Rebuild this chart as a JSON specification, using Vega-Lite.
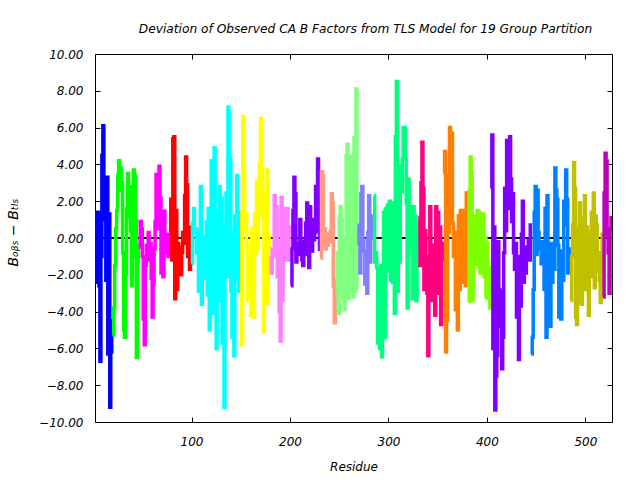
{
 "$schema": "https://vega.github.io/schema/vega-lite/v6.json",
 "width": 517, "height": 368,
 "autosize": "none",
 "padding": {"left": 95, "top": 54, "right": 28, "bottom": 58},
 "background": "white",
 "title": {"text": "Deviation of Observed CA B Factors from TLS Model for 19 Group Partition", "font": "DejaVu Sans", "fontStyle": "italic", "fontWeight": "normal", "fontSize": 12.2, "color": "#000", "offset": 13, "dx": 12},
 "config": {
  "view": {"stroke": "#000", "strokeWidth": 1},
  "axis": {"labelFont": "DejaVu Sans", "labelFontStyle": "italic", "labelFontSize": 12, "labelColor": "#000", "titleFont": "DejaVu Sans", "titleFontStyle": "italic", "titleFontWeight": "normal", "titleFontSize": 12, "titleColor": "#000", "tickColor": "#000", "domain": false, "grid": false, "tickSize": -5, "labelOverlap": false, "labelFlush": false}
 },
 "data": {"values": [
{"r":2,"v":-2.4,"g":"s01"},{"r":3,"v":1.4,"g":"s01"},{"r":4,"v":-0.5,"g":"s01"},{"r":5,"v":1.4,"g":"s01"},{"r":6,"v":-2.6,"g":"s01"},{"r":7,"v":-6.7,"g":"s01"},{"r":8,"v":-1.0,"g":"s01"},{"r":9,"v":4.5,"g":"s01"},{"r":10,"v":6.1,"g":"s01"},{"r":11,"v":1.0,"g":"s01"},{"r":12,"v":3.3,"g":"s01"},{"r":13,"v":-2.3,"g":"s01"},{"r":14,"v":3.3,"g":"s01"},{"r":15,"v":-6.3,"g":"s01"},{"r":16,"v":1.3,"g":"s01"},{"r":17,"v":-9.2,"g":"s01"},{"r":18,"v":-6.2,"g":"s01"},{"r":19,"v":-4.4,"g":"s01"},
{"r":20,"v":-5.3,"g":"s02"},{"r":21,"v":-3.8,"g":"s02"},{"r":22,"v":-1.5,"g":"s02"},{"r":23,"v":0.5,"g":"s02"},{"r":24,"v":1.5,"g":"s02"},{"r":25,"v":3.4,"g":"s02"},{"r":26,"v":4.2,"g":"s02"},{"r":27,"v":2.6,"g":"s02"},{"r":28,"v":3.8,"g":"s02"},{"r":29,"v":3.0,"g":"s02"},{"r":30,"v":-0.8,"g":"s02"},{"r":31,"v":-5.0,"g":"s02"},{"r":32,"v":-5.4,"g":"s02"},{"r":33,"v":-2.0,"g":"s02"},{"r":34,"v":1.6,"g":"s02"},{"r":35,"v":3.5,"g":"s02"},{"r":36,"v":1.2,"g":"s02"},{"r":37,"v":2.8,"g":"s02"},{"r":38,"v":0.4,"g":"s02"},{"r":39,"v":-2.6,"g":"s02"},{"r":40,"v":-1.0,"g":"s02"},{"r":41,"v":3.7,"g":"s02"},{"r":42,"v":3.4,"g":"s02"},{"r":43,"v":1.0,"g":"s02"},{"r":44,"v":-6.5,"g":"s02"},{"r":45,"v":-1.3,"g":"s02"},{"r":46,"v":-0.3,"g":"s02"},
{"r":47,"v":-0.5,"g":"s03"},{"r":48,"v":0.9,"g":"s03"},{"r":49,"v":0.5,"g":"s03"},{"r":50,"v":-1.0,"g":"s03"},{"r":51,"v":-4.4,"g":"s03"},{"r":52,"v":-5.8,"g":"s03"},{"r":53,"v":-1.5,"g":"s03"},{"r":54,"v":-0.4,"g":"s03"},{"r":55,"v":-1.2,"g":"s03"},{"r":56,"v":0.3,"g":"s03"},{"r":57,"v":-1.0,"g":"s03"},{"r":58,"v":-0.3,"g":"s03"},{"r":59,"v":-2.2,"g":"s03"},{"r":60,"v":-4.3,"g":"s03"},{"r":61,"v":-2.5,"g":"s03"},{"r":62,"v":-0.6,"g":"s03"},{"r":63,"v":0.9,"g":"s03"},{"r":64,"v":3.45,"g":"s03"},{"r":65,"v":3.0,"g":"s03"},{"r":66,"v":0.5,"g":"s03"},{"r":67,"v":3.9,"g":"s03"},{"r":68,"v":2.2,"g":"s03"},{"r":69,"v":-1.9,"g":"s03"},{"r":70,"v":1.3,"g":"s03"},{"r":71,"v":-2.1,"g":"s03"},{"r":72,"v":1.45,"g":"s03"},{"r":73,"v":0.2,"g":"s03"},{"r":74,"v":-0.8,"g":"s03"},{"r":75,"v":0.1,"g":"s03"},{"r":76,"v":-1.0,"g":"s03"},{"r":77,"v":0.3,"g":"s03"},
{"r":78,"v":0.3,"g":"s04"},{"r":79,"v":2.1,"g":"s04"},{"r":80,"v":-1.2,"g":"s04"},{"r":81,"v":5.4,"g":"s04"},{"r":82,"v":5.5,"g":"s04"},{"r":83,"v":-3.3,"g":"s04"},{"r":84,"v":1.5,"g":"s04"},{"r":85,"v":-2.8,"g":"s04"},{"r":86,"v":-0.3,"g":"s04"},{"r":87,"v":-1.4,"g":"s04"},{"r":88,"v":-0.5,"g":"s04"},{"r":89,"v":-2.0,"g":"s04"},{"r":90,"v":-0.8,"g":"s04"},{"r":91,"v":0.3,"g":"s04"},{"r":92,"v":-0.3,"g":"s04"},{"r":93,"v":2.3,"g":"s04"},{"r":94,"v":4.4,"g":"s04"},{"r":95,"v":2.9,"g":"s04"},{"r":96,"v":-1.0,"g":"s04"},{"r":97,"v":0.6,"g":"s04"},{"r":98,"v":-1.7,"g":"s04"},{"r":99,"v":0.5,"g":"s04"},
{"r":100,"v":-1.4,"g":"s05"},{"r":101,"v":0.8,"g":"s05"},{"r":102,"v":1.6,"g":"s05"},{"r":103,"v":0.3,"g":"s05"},{"r":104,"v":0.5,"g":"s05"},{"r":105,"v":-0.8,"g":"s05"},{"r":106,"v":0.4,"g":"s05"},{"r":107,"v":-2.9,"g":"s05"},{"r":108,"v":-1.0,"g":"s05"},{"r":109,"v":2.8,"g":"s05"},{"r":110,"v":-3.6,"g":"s05"},{"r":111,"v":-0.8,"g":"s05"},{"r":112,"v":-1.5,"g":"s05"},{"r":113,"v":0.1,"g":"s05"},{"r":114,"v":-2.2,"g":"s05"},{"r":115,"v":0.9,"g":"s05"},{"r":116,"v":-3.1,"g":"s05"},{"r":117,"v":1.6,"g":"s05"},{"r":118,"v":-5.0,"g":"s05"},{"r":119,"v":-1.0,"g":"s05"},{"r":120,"v":4.2,"g":"s05"},{"r":121,"v":2.2,"g":"s05"},{"r":122,"v":-4.1,"g":"s05"},{"r":123,"v":4.9,"g":"s05"},{"r":124,"v":1.2,"g":"s05"},{"r":125,"v":-6.0,"g":"s05"},{"r":126,"v":-0.1,"g":"s05"},{"r":127,"v":-3.4,"g":"s05"},{"r":128,"v":2.8,"g":"s05"},{"r":129,"v":-2.5,"g":"s05"},{"r":130,"v":2.2,"g":"s05"},{"r":131,"v":-5.7,"g":"s05"},{"r":132,"v":0.7,"g":"s05"},{"r":133,"v":-9.2,"g":"s05"},{"r":134,"v":-0.5,"g":"s05"},{"r":135,"v":2.45,"g":"s05"},{"r":136,"v":-2.1,"g":"s05"},{"r":137,"v":7.1,"g":"s05"},{"r":138,"v":6.8,"g":"s05"},{"r":139,"v":4.3,"g":"s05"},{"r":140,"v":-2.9,"g":"s05"},{"r":141,"v":-5.4,"g":"s05"},{"r":142,"v":0.2,"g":"s05"},{"r":143,"v":-6.4,"g":"s05"},{"r":144,"v":1.2,"g":"s05"},{"r":145,"v":-2.3,"g":"s05"},{"r":146,"v":3.4,"g":"s05"},{"r":147,"v":1.4,"g":"s05"},{"r":148,"v":-2.9,"g":"s05"},{"r":149,"v":0.0,"g":"s05"},
{"r":150,"v":1.5,"g":"s06"},{"r":151,"v":-5.8,"g":"s06"},{"r":152,"v":6.6,"g":"s06"},{"r":153,"v":3.8,"g":"s06"},{"r":154,"v":0.5,"g":"s06"},{"r":155,"v":1.3,"g":"s06"},{"r":156,"v":-0.4,"g":"s06"},{"r":157,"v":-3.4,"g":"s06"},{"r":158,"v":-0.8,"g":"s06"},{"r":159,"v":-1.6,"g":"s06"},{"r":160,"v":-4.2,"g":"s06"},{"r":161,"v":0.5,"g":"s06"},{"r":162,"v":-2.0,"g":"s06"},{"r":163,"v":-4.3,"g":"s06"},{"r":164,"v":1.3,"g":"s06"},{"r":165,"v":-0.9,"g":"s06"},{"r":166,"v":3.1,"g":"s06"},{"r":167,"v":-0.6,"g":"s06"},{"r":168,"v":1.3,"g":"s06"},{"r":169,"v":4.1,"g":"s06"},{"r":170,"v":6.5,"g":"s06"},{"r":171,"v":3.8,"g":"s06"},{"r":172,"v":1.2,"g":"s06"},{"r":173,"v":-5.1,"g":"s06"},{"r":174,"v":2.5,"g":"s06"},{"r":175,"v":2.0,"g":"s06"},{"r":176,"v":3.7,"g":"s06"},{"r":177,"v":-3.6,"g":"s06"},{"r":178,"v":-0.5,"g":"s06"},{"r":179,"v":0.2,"g":"s06"},
{"r":180,"v":-1.0,"g":"s07"},{"r":181,"v":-1.9,"g":"s07"},{"r":182,"v":-0.6,"g":"s07"},{"r":183,"v":-1.0,"g":"s07"},{"r":184,"v":2.3,"g":"s07"},{"r":185,"v":0.5,"g":"s07"},{"r":186,"v":1.7,"g":"s07"},{"r":187,"v":-2.1,"g":"s07"},{"r":188,"v":-0.2,"g":"s07"},{"r":189,"v":-4.0,"g":"s07"},{"r":190,"v":-5.6,"g":"s07"},{"r":191,"v":2.2,"g":"s07"},{"r":192,"v":-3.4,"g":"s07"},{"r":193,"v":1.6,"g":"s07"},{"r":194,"v":0.5,"g":"s07"},{"r":195,"v":-1.2,"g":"s07"},{"r":196,"v":0.2,"g":"s07"},{"r":197,"v":1.6,"g":"s07"},{"r":198,"v":-1.2,"g":"s07"},{"r":199,"v":0.6,"g":"s07"},{"r":200,"v":0.3,"g":"s07"},
{"r":201,"v":-2.6,"g":"s08"},{"r":202,"v":-0.6,"g":"s08"},{"r":203,"v":1.5,"g":"s08"},{"r":204,"v":3.3,"g":"s08"},{"r":205,"v":2.4,"g":"s08"},{"r":206,"v":-1.3,"g":"s08"},{"r":207,"v":-0.9,"g":"s08"},{"r":208,"v":-0.3,"g":"s08"},{"r":209,"v":-0.9,"g":"s08"},{"r":210,"v":1.0,"g":"s08"},{"r":211,"v":-0.1,"g":"s08"},{"r":212,"v":-1.2,"g":"s08"},{"r":213,"v":-1.5,"g":"s08"},{"r":214,"v":-0.2,"g":"s08"},{"r":215,"v":-0.9,"g":"s08"},{"r":216,"v":0.8,"g":"s08"},{"r":217,"v":1.9,"g":"s08"},{"r":218,"v":0.6,"g":"s08"},{"r":219,"v":-1.6,"g":"s08"},{"r":220,"v":1.7,"g":"s08"},{"r":221,"v":-0.4,"g":"s08"},{"r":222,"v":-0.7,"g":"s08"},{"r":223,"v":1.0,"g":"s08"},{"r":224,"v":-0.1,"g":"s08"},{"r":225,"v":0.3,"g":"s08"},{"r":226,"v":2.8,"g":"s08"},{"r":227,"v":1.5,"g":"s08"},{"r":228,"v":4.3,"g":"s08"},{"r":229,"v":0.4,"g":"s08"},{"r":230,"v":-0.7,"g":"s08"},
{"r":231,"v":-1.1,"g":"s09"},{"r":232,"v":3.6,"g":"s09"},{"r":233,"v":3.4,"g":"s09"},{"r":234,"v":-0.3,"g":"s09"},{"r":235,"v":0.5,"g":"s09"},{"r":236,"v":-0.6,"g":"s09"},{"r":237,"v":0.2,"g":"s09"},{"r":238,"v":-0.4,"g":"s09"},{"r":239,"v":0.1,"g":"s09"},{"r":240,"v":-0.2,"g":"s09"},{"r":241,"v":0.4,"g":"s09"},{"r":242,"v":2.4,"g":"s09"},{"r":243,"v":1.9,"g":"s09"},{"r":244,"v":-2.6,"g":"s09"},{"r":245,"v":-4.6,"g":"s09"},{"r":246,"v":-2.2,"g":"s09"},
{"r":247,"v":-2.9,"g":"s10"},{"r":248,"v":-0.8,"g":"s10"},{"r":249,"v":-4.1,"g":"s10"},{"r":250,"v":1.2,"g":"s10"},{"r":251,"v":1.7,"g":"s10"},{"r":252,"v":1.0,"g":"s10"},{"r":253,"v":-3.3,"g":"s10"},{"r":254,"v":0.0,"g":"s10"},{"r":255,"v":-3.9,"g":"s10"},{"r":256,"v":-2.1,"g":"s10"},{"r":257,"v":4.45,"g":"s10"},{"r":258,"v":5.1,"g":"s10"},{"r":259,"v":-3.3,"g":"s10"},{"r":260,"v":4.45,"g":"s10"},{"r":261,"v":-2.8,"g":"s10"},{"r":262,"v":2.8,"g":"s10"},{"r":263,"v":4.45,"g":"s10"},{"r":264,"v":-3.2,"g":"s10"},{"r":265,"v":5.45,"g":"s10"},{"r":266,"v":-2.9,"g":"s10"},{"r":267,"v":8.1,"g":"s10"},{"r":268,"v":-2.8,"g":"s10"},
{"r":269,"v":0.7,"g":"s11"},{"r":270,"v":-0.3,"g":"s11"},{"r":271,"v":-1.9,"g":"s11"},{"r":272,"v":2.4,"g":"s11"},{"r":273,"v":2.8,"g":"s11"},{"r":274,"v":-0.1,"g":"s11"},{"r":275,"v":-0.7,"g":"s11"},{"r":276,"v":-2.5,"g":"s11"},{"r":277,"v":-1.0,"g":"s11"},{"r":278,"v":-3.0,"g":"s11"},{"r":279,"v":0.3,"g":"s11"},{"r":280,"v":2.3,"g":"s11"},{"r":281,"v":-1.3,"g":"s11"},{"r":282,"v":1.2,"g":"s11"},{"r":283,"v":0.7,"g":"s11"},{"r":284,"v":-0.1,"g":"s11"},
{"r":285,"v":2.3,"g":"s12"},{"r":286,"v":-1.3,"g":"s12"},{"r":287,"v":-0.8,"g":"s12"},{"r":288,"v":-1.6,"g":"s12"},{"r":289,"v":-5.7,"g":"s12"},{"r":290,"v":-2.0,"g":"s12"},{"r":291,"v":-6.0,"g":"s12"},{"r":292,"v":-1.5,"g":"s12"},{"r":293,"v":-6.45,"g":"s12"},{"r":294,"v":-1.7,"g":"s12"},{"r":295,"v":1.4,"g":"s12"},{"r":296,"v":-5.4,"g":"s12"},{"r":297,"v":1.6,"g":"s12"},{"r":298,"v":-1.6,"g":"s12"},{"r":299,"v":1.8,"g":"s12"},{"r":300,"v":-1.8,"g":"s12"},{"r":301,"v":2.0,"g":"s12"},{"r":302,"v":-2.3,"g":"s12"},{"r":303,"v":1.9,"g":"s12"},{"r":304,"v":-2.4,"g":"s12"},{"r":305,"v":1.9,"g":"s12"},{"r":306,"v":-4.1,"g":"s12"},{"r":307,"v":5.5,"g":"s12"},{"r":308,"v":8.5,"g":"s12"},{"r":309,"v":-2.9,"g":"s12"},{"r":310,"v":3.9,"g":"s12"},{"r":311,"v":-1.3,"g":"s12"},{"r":312,"v":3.9,"g":"s12"},{"r":313,"v":2.5,"g":"s12"},{"r":314,"v":4.3,"g":"s12"},{"r":315,"v":6.0,"g":"s12"},{"r":316,"v":6.0,"g":"s12"},{"r":317,"v":4.3,"g":"s12"},{"r":318,"v":1.9,"g":"s12"},{"r":319,"v":-3.8,"g":"s12"},{"r":320,"v":3.2,"g":"s12"},{"r":321,"v":0.8,"g":"s12"},{"r":322,"v":-0.5,"g":"s12"},{"r":323,"v":1.7,"g":"s12"},{"r":324,"v":-3.3,"g":"s12"},{"r":325,"v":1.7,"g":"s12"},{"r":326,"v":-0.5,"g":"s12"},{"r":327,"v":1.2,"g":"s12"},{"r":328,"v":-3.4,"g":"s12"},{"r":329,"v":0.8,"g":"s12"},{"r":330,"v":-0.5,"g":"s12"},
{"r":331,"v":1.2,"g":"s13"},{"r":332,"v":-1.5,"g":"s13"},{"r":333,"v":3.0,"g":"s13"},{"r":334,"v":5.2,"g":"s13"},{"r":335,"v":2.7,"g":"s13"},{"r":336,"v":-2.8,"g":"s13"},{"r":337,"v":0.4,"g":"s13"},{"r":338,"v":-1.0,"g":"s13"},{"r":339,"v":-3.0,"g":"s13"},{"r":340,"v":-6.4,"g":"s13"},{"r":341,"v":-1.0,"g":"s13"},{"r":342,"v":1.7,"g":"s13"},{"r":343,"v":-3.4,"g":"s13"},{"r":344,"v":-0.5,"g":"s13"},{"r":345,"v":-2.3,"g":"s13"},{"r":346,"v":-0.4,"g":"s13"},{"r":347,"v":-4.2,"g":"s13"},{"r":348,"v":1.7,"g":"s13"},{"r":349,"v":-3.0,"g":"s13"},{"r":350,"v":1.4,"g":"s13"},{"r":351,"v":-0.6,"g":"s13"},{"r":352,"v":0.6,"g":"s13"},{"r":353,"v":-4.7,"g":"s13"},{"r":354,"v":-1.2,"g":"s13"},{"r":355,"v":-0.2,"g":"s13"},
{"r":356,"v":3.5,"g":"s14"},{"r":357,"v":4.7,"g":"s14"},{"r":358,"v":-6.2,"g":"s14"},{"r":359,"v":-4.45,"g":"s14"},{"r":360,"v":3.4,"g":"s14"},{"r":361,"v":0.3,"g":"s14"},{"r":362,"v":6.0,"g":"s14"},{"r":363,"v":1.0,"g":"s14"},{"r":364,"v":5.7,"g":"s14"},{"r":365,"v":0.8,"g":"s14"},{"r":366,"v":-1.0,"g":"s14"},{"r":367,"v":0.3,"g":"s14"},{"r":368,"v":-3.9,"g":"s14"},{"r":369,"v":-0.8,"g":"s14"},{"r":370,"v":-5.0,"g":"s14"},{"r":371,"v":1.2,"g":"s14"},{"r":372,"v":-2.8,"g":"s14"},{"r":373,"v":1.5,"g":"s14"},{"r":374,"v":-2.4,"g":"s14"},{"r":375,"v":1.5,"g":"s14"},{"r":376,"v":-1.9,"g":"s14"},{"r":377,"v":1.5,"g":"s14"},{"r":378,"v":-2.6,"g":"s14"},{"r":379,"v":2.45,"g":"s14"},{"r":380,"v":-0.2,"g":"s14"},
{"r":381,"v":-3.45,"g":"s15"},{"r":382,"v":2.6,"g":"s15"},{"r":383,"v":4.4,"g":"s15"},{"r":384,"v":3.6,"g":"s15"},{"r":385,"v":-3.4,"g":"s15"},{"r":386,"v":0.6,"g":"s15"},{"r":387,"v":-1.4,"g":"s15"},{"r":388,"v":1.2,"g":"s15"},{"r":389,"v":-0.8,"g":"s15"},{"r":390,"v":1.5,"g":"s15"},{"r":391,"v":-1.6,"g":"s15"},{"r":392,"v":1.4,"g":"s15"},{"r":393,"v":-1.9,"g":"s15"},{"r":394,"v":0.5,"g":"s15"},{"r":395,"v":-1.2,"g":"s15"},{"r":396,"v":1.3,"g":"s15"},{"r":397,"v":-2.1,"g":"s15"},{"r":398,"v":0.0,"g":"s15"},{"r":399,"v":-3.2,"g":"s15"},{"r":400,"v":-0.3,"g":"s15"},{"r":401,"v":-3.3,"g":"s15"},{"r":402,"v":-1.6,"g":"s15"},{"r":403,"v":-3.9,"g":"s15"},
{"r":404,"v":2.7,"g":"s16"},{"r":405,"v":5.6,"g":"s16"},{"r":406,"v":-6.0,"g":"s16"},{"r":407,"v":0.6,"g":"s16"},{"r":408,"v":-9.35,"g":"s16"},{"r":409,"v":-7.5,"g":"s16"},{"r":410,"v":-6.4,"g":"s16"},{"r":411,"v":-0.2,"g":"s16"},{"r":412,"v":-2.8,"g":"s16"},{"r":413,"v":-4.8,"g":"s16"},{"r":414,"v":-2.9,"g":"s16"},{"r":415,"v":-7.1,"g":"s16"},{"r":416,"v":-5.4,"g":"s16"},{"r":417,"v":-0.8,"g":"s16"},{"r":418,"v":2.7,"g":"s16"},{"r":419,"v":0.4,"g":"s16"},{"r":420,"v":5.3,"g":"s16"},{"r":421,"v":1.6,"g":"s16"},{"r":422,"v":4.5,"g":"s16"},{"r":423,"v":5.5,"g":"s16"},{"r":424,"v":3.2,"g":"s16"},{"r":425,"v":0.9,"g":"s16"},{"r":426,"v":2.4,"g":"s16"},{"r":427,"v":-0.8,"g":"s16"},{"r":428,"v":-1.7,"g":"s16"},{"r":429,"v":-0.3,"g":"s16"},{"r":430,"v":-4.3,"g":"s16"},{"r":431,"v":-1.0,"g":"s16"},{"r":432,"v":-6.6,"g":"s16"},{"r":433,"v":-1.0,"g":"s16"},{"r":434,"v":-3.7,"g":"s16"},{"r":435,"v":0.2,"g":"s16"},{"r":436,"v":2.0,"g":"s16"},{"r":437,"v":-2.4,"g":"s16"},{"r":438,"v":-0.8,"g":"s16"},{"r":439,"v":-1.9,"g":"s16"},{"r":440,"v":-0.5,"g":"s16"},{"r":441,"v":-1.2,"g":"s16"},{"r":442,"v":-0.1,"g":"s16"},{"r":443,"v":-1.2,"g":"s16"},{"r":444,"v":0.8,"g":"s16"},
{"r":445,"v":-6.3,"g":"s17"},{"r":446,"v":-5.4,"g":"s17"},{"r":447,"v":-2.8,"g":"s17"},{"r":448,"v":1.4,"g":"s17"},{"r":449,"v":2.8,"g":"s17"},{"r":450,"v":-0.9,"g":"s17"},{"r":451,"v":2.6,"g":"s17"},{"r":452,"v":0.3,"g":"s17"},{"r":453,"v":-0.6,"g":"s17"},{"r":454,"v":-0.2,"g":"s17"},{"r":455,"v":-1.4,"g":"s17"},{"r":456,"v":-0.2,"g":"s17"},{"r":457,"v":-0.8,"g":"s17"},{"r":458,"v":-2.8,"g":"s17"},{"r":459,"v":1.6,"g":"s17"},{"r":460,"v":-5.4,"g":"s17"},{"r":461,"v":2.3,"g":"s17"},{"r":462,"v":-3.9,"g":"s17"},{"r":463,"v":-0.3,"g":"s17"},{"r":464,"v":-4.8,"g":"s17"},{"r":465,"v":-0.3,"g":"s17"},{"r":466,"v":-2.4,"g":"s17"},{"r":467,"v":-0.4,"g":"s17"},{"r":468,"v":-1.7,"g":"s17"},{"r":469,"v":3.8,"g":"s17"},{"r":470,"v":2.6,"g":"s17"},{"r":471,"v":2.1,"g":"s17"},{"r":472,"v":-0.4,"g":"s17"},{"r":473,"v":-4.3,"g":"s17"},{"r":474,"v":-2.1,"g":"s17"},{"r":475,"v":-4.4,"g":"s17"},{"r":476,"v":-0.7,"g":"s17"},{"r":477,"v":-2.3,"g":"s17"},{"r":478,"v":2.0,"g":"s17"},{"r":479,"v":0.7,"g":"s17"},{"r":480,"v":3.7,"g":"s17"},{"r":481,"v":2.1,"g":"s17"},{"r":482,"v":-1.9,"g":"s17"},{"r":483,"v":-0.6,"g":"s17"},{"r":484,"v":-1.1,"g":"s17"},
{"r":485,"v":-3.4,"g":"s18"},{"r":486,"v":-1.0,"g":"s18"},{"r":487,"v":0.7,"g":"s18"},{"r":488,"v":4.1,"g":"s18"},{"r":489,"v":2.7,"g":"s18"},{"r":490,"v":-4.3,"g":"s18"},{"r":491,"v":-4.7,"g":"s18"},{"r":492,"v":0.5,"g":"s18"},{"r":493,"v":-3.5,"g":"s18"},{"r":494,"v":1.9,"g":"s18"},{"r":495,"v":-0.7,"g":"s18"},{"r":496,"v":-3.6,"g":"s18"},{"r":497,"v":1.1,"g":"s18"},{"r":498,"v":-2.0,"g":"s18"},{"r":499,"v":2.3,"g":"s18"},{"r":500,"v":-2.8,"g":"s18"},{"r":501,"v":0.6,"g":"s18"},{"r":502,"v":-2.6,"g":"s18"},{"r":503,"v":-4.2,"g":"s18"},{"r":504,"v":0.3,"g":"s18"},{"r":505,"v":-2.1,"g":"s18"},{"r":506,"v":1.4,"g":"s18"},{"r":507,"v":-1.9,"g":"s18"},{"r":508,"v":2.45,"g":"s18"},{"r":509,"v":-2.7,"g":"s18"},{"r":510,"v":1.2,"g":"s18"},{"r":511,"v":0.7,"g":"s18"},{"r":512,"v":-1.8,"g":"s18"},{"r":513,"v":-0.8,"g":"s18"},{"r":514,"v":-2.3,"g":"s18"},{"r":515,"v":-3.5,"g":"s18"},{"r":516,"v":-1.5,"g":"s18"},{"r":517,"v":0.3,"g":"s18"},
{"r":518,"v":-3.2,"g":"s19"},{"r":519,"v":2.45,"g":"s19"},{"r":520,"v":4.6,"g":"s19"},{"r":521,"v":4.2,"g":"s19"},{"r":522,"v":0.2,"g":"s19"},{"r":523,"v":-0.8,"g":"s19"},{"r":524,"v":-3.0,"g":"s19"},{"r":525,"v":0.5,"g":"s19"},{"r":526,"v":1.1,"g":"s19"},{"r":527,"v":1.0,"g":"s19"}
 ]},
 "layer": [
  {"mark": {"type": "rule", "color": "#000", "strokeWidth": 1}, "encoding": {"y": {"datum": 0, "type": "quantitative", "axis": null}}},
  {"mark": {"type": "line", "interpolate": "step-after", "strokeWidth": 3.5, "clip": true},
   "encoding": {
    "x": {"field": "r", "type": "quantitative", "scale": {"domain": [2, 527], "nice": false, "zero": false},
          "axis": {"values": [100, 200, 300, 400, 500], "format": "d", "labelPadding": 19, "title": "Residue", "titlePadding": 14}},
    "y": {"field": "v", "type": "quantitative", "scale": {"domain": [-10, 10], "nice": false},
          "axis": {"values": [-10, -8, -6, -4, -2, 0, 2, 4, 6, 8, 10], "format": ".2f", "labelPadding": 17, "title": "Bₒᵦₛ − Bₜₗₛ", "titleFontSize": 14, "titlePadding": 18, "titleY": 178}},
    "color": {"field": "g", "type": "nominal", "legend": null,
      "scale": {"domain": ["s01","s02","s03","s04","s05","s06","s07","s08","s09","s10","s11","s12","s13","s14","s15","s16","s17","s18","s19"],
                "range": ["#0000ff","#00ff00","#ff00ff","#ff0000","#00ffff","#ffff00","#ff80ff","#8000ff","#ff9980","#80ff80","#8080ff","#00ff80","#ff0080","#ff8000","#80ff00","#8000ff","#0080ff","#c0c000","#c000c0"]}},
    "detail": {"field": "g"}
   }},
  {"mark": {"type": "point", "opacity": 0},
   "encoding": {
    "x": {"field": "r", "type": "quantitative", "axis": {"orient": "top", "values": [100, 200, 300, 400, 500], "labels": false, "title": null}},
    "y": {"field": "v", "type": "quantitative", "axis": {"orient": "right", "values": [-10, -8, -6, -4, -2, 0, 2, 4, 6, 8, 10], "labels": false, "title": null}}
   }}
 ],
 "resolve": {"axis": {"x": "independent", "y": "independent"}}
}
